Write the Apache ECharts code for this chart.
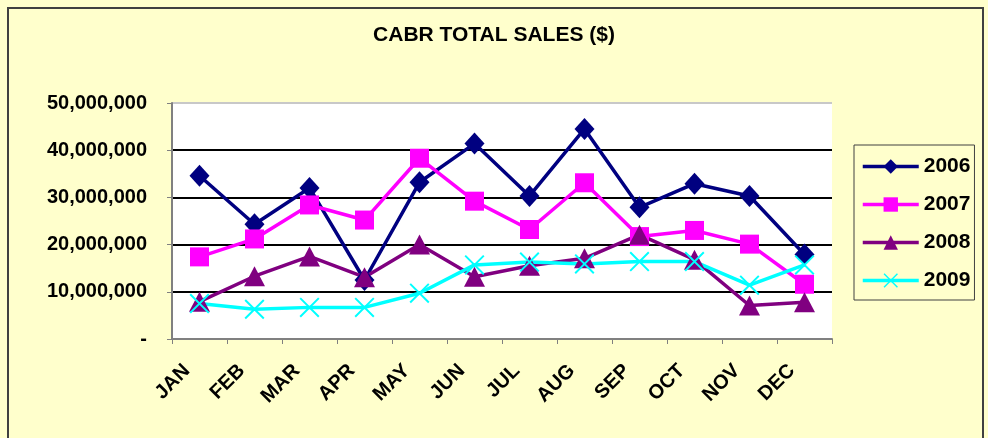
<!DOCTYPE html>
<html>
<head>
<meta charset="utf-8">
<script src="https://cdn.jsdelivr.net/npm/echarts@6/dist/echarts.min.js"></script>
<style>
html,body{margin:0;padding:0;background:#FFFFCC;}
#chart{width:988px;height:438px;}
</style>
</head>
<body>
<div id="chart"></div>
<script>
const categories = ['JAN','FEB','MAR','APR','MAY','JUN','JUL','AUG','SEP','OCT','NOV','DEC'];
const sales2006 = [34600000, 24300000, 32000000, 12500000, 33200000, 41400000, 30300000, 44500000, 27900000, 32900000, 30300000, 17900000];
const sales2007 = [17400000, 21200000, 28400000, 25200000, 38300000, 29200000, 23200000, 33100000, 21700000, 23000000, 20100000, 11600000];
const sales2008 = [7900000, 13300000, 17500000, 13100000, 20000000, 13200000, 15500000, 17100000, 22100000, 16800000, 7100000, 7800000];
const sales2009 = [7500000, 6300000, 6700000, 6700000, 9700000, 15700000, 16300000, 15900000, 16400000, 16400000, 11400000, 15700000];
const seriesNames = ['2006','2007','2008','2009'];
const yTicks = [0, 10000000, 20000000, 30000000, 40000000, 50000000];

const FONT = '"Liberation Sans", Arial, sans-serif';
const xSymbol = 'path://M0,0.7L0.7,0L10,9.3L9.3,10Z M9.3,0L10,0.7L0.7,10L0,9.3Z';

function fmt(v){
  if (v === 0) return '-';
  return String(v).replace(/\B(?=(\d{3})+(?!\d))/g, ',');
}

const chart = echarts.init(document.getElementById('chart'));
const seriesDefs = [
  {name: seriesNames[0], data: sales2006, color: '#000080', symbol: 'diamond', size: [20, 22]},
  {name: seriesNames[1], data: sales2007, color: '#FF00FF', symbol: 'rect', size: [19, 19]},
  {name: seriesNames[2], data: sales2008, color: '#800080', symbol: 'triangle', size: [21, 20]},
  {name: seriesNames[3], data: sales2009, color: '#00FFFF', symbol: xSymbol, size: [20, 20]}
];

chart.setOption({
  backgroundColor: '#FFFFCC',
  animation: false,
  textStyle: {fontFamily: FONT},
  title: {
    text: 'CABR TOTAL SALES ($)',
    left: 'center',
    top: 20,
    textStyle: {fontFamily: FONT, fontSize: 21, fontWeight: 'bold', color: '#000'}
  },
  graphic: [{
    type: 'rect',
    shape: {x: 8, y: 8, width: 975, height: 445},
    style: {fill: 'none', stroke: '#404040', lineWidth: 2},
    silent: true,
    z: -1
  }],
  legend: {
    orient: 'vertical',
    left: 854,
    top: 145,
    data: seriesNames,
    itemWidth: 56,
    itemHeight: 18,
    itemGap: 17,
    padding: [11, 4, 9, 7],
    borderColor: '#404040',
    borderWidth: 1,
    backgroundColor: '#FFFFCC',
    lineStyle: {width: 3.5},
    textStyle: {fontFamily: FONT, fontSize: 21, fontWeight: 'bold', color: '#000'}
  },
  grid: {
    left: 172, right: 156, top: 103, bottom: 99,
    show: true, backgroundColor: '#FFFFFF', borderWidth: 0
  },
  xAxis: {
    type: 'category',
    data: categories,
    boundaryGap: true,
    axisLine: {lineStyle: {color: '#808080', width: 2}},
    axisTick: {show: true, length: 5, lineStyle: {color: '#808080', width: 1}},
    axisLabel: {
      rotate: 45,
      margin: 16,
      padding: [0, 18, 0, 0],
      fontFamily: FONT, fontSize: 20, fontWeight: 'bold', color: '#000'
    }
  },
  yAxis: {
    type: 'value',
    min: yTicks[0],
    max: yTicks[yTicks.length - 1],
    interval: yTicks[1] - yTicks[0],
    axisLine: {show: true, lineStyle: {color: '#808080', width: 2}},
    axisTick: {show: true, length: 5, lineStyle: {color: '#808080', width: 1}},
    splitLine: {show: true, lineStyle: {color: ['#000','#000','#000','#000','#000','#C8C8C8'], width: 2}},
    axisLabel: {
      margin: 25,
      formatter: fmt,
      fontFamily: FONT, fontSize: 20, fontWeight: 'bold', color: '#000'
    }
  },
  series: seriesDefs.map(d => ({
    name: d.name,
    type: 'line',
    data: d.data,
    symbol: d.symbol,
    symbolSize: d.size,
    showAllSymbol: true,
    lineStyle: {color: d.color, width: 3.5},
    itemStyle: {color: d.color, borderWidth: 0},
    emphasis: {disabled: true}
  }))
});
</script>
</body>
</html>
